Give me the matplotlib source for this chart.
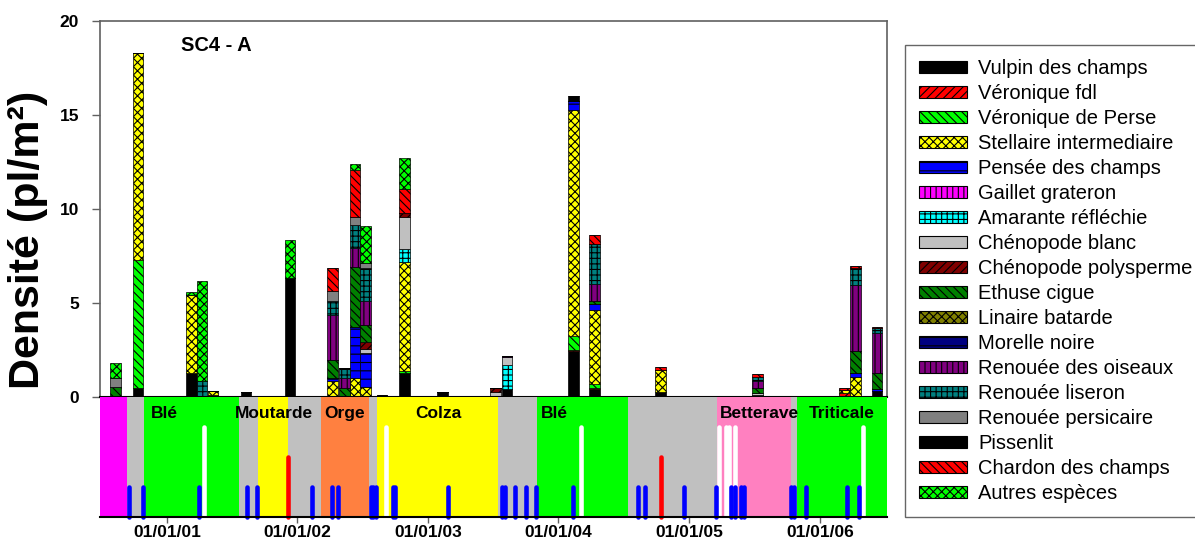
import pandas as pd
import matplotlib
matplotlib.use("Agg")
import matplotlib.pyplot as plt
import matplotlib.dates as mdates
from matplotlib.patches import Patch

plt.rcParams['font.family'] = ['Liberation Sans', 'DejaVu Sans']
plt.rcParams['hatch.linewidth'] = 0.8

# dates des relevés de flore
dates = pd.to_datetime([
    '2000-08-11', '2000-10-12', '2001-03-10', '2001-04-09', '2001-05-10',
    '2001-08-10', '2001-12-11', '2002-04-10', '2002-05-12', '2002-06-11',
    '2002-07-11', '2002-08-26', '2002-10-28', '2003-02-11', '2003-07-09',
    '2003-08-10', '2004-02-12', '2004-04-11', '2004-10-12', '2005-07-10',
    '2006-03-11', '2006-04-11', '2006-06-10'])

especes = ['Vulpin des champs', 'Véronique fdl', 'Véronique de Perse',
           'Stellaire intermediaire', 'Pensée des champs', 'Gaillet grateron',
           'Amarante réfléchie', 'Chénopode blanc', 'Chénopode polysperme',
           'Ethuse cigue', 'Linaire batarde', 'Morelle noire',
           'Renouée des oiseaux', 'Renouée liseron', 'Renouée persicaire',
           'Pissenlit', 'Chardon des champs', 'Autres espèces']
couleurs = ['#000000', '#FF0000', '#00FF00', '#FFFF00', '#0000FF', '#FF00FF',
            '#00FFFF', '#C0C0C0', '#800000', '#008000', '#808000', '#000080',
            '#800080', '#008080', '#808080', '#000000', '#FF0000', '#00FF00']
hachures = ['', '////', '\\\\\\\\', 'xxxx', '--', '|||', '+++', '', '////',
            '\\\\\\\\', 'xxxx', '--', '|||', '+++', '', '', '\\\\\\\\', 'xxxx']

# densités (pl/m2) par espèce, une valeur par relevé
vulpin = [0, .5, 1.3, 0, .1, .25, 6.35, 0, 0, 0, 0, 0, 1.3, .25, 0, .4, 2.45, .45, .28, 0, 0, 0, .34]
veronique_fdl = [0, 0, 0, .05, 0, 0, 0, 0, 0, 0, 0, 0, 0, 0, 0, 0, .05, .05, 0, 0, .2, 0, 0]
veronique_perse = [0, 6.8, 0, 0, 0, 0, 0, 0, 0, 0, 0, 0, .1, 0, 0, 0, .75, .2, 0, .1, 0, .05, 0]
stellaire = [0, 11.0, 4.1, 0, .2, 0, 0, .85, 0, 1.0, .55, 0, 5.8, 0, 0, 0, 12.0, 3.95, 1.17, 0, .15, 1.0, 0]
pensee = [0, 0, 0, 0, 0, 0, 0, .18, 0, 2.75, 1.77, 0, 0, 0, 0, 0, .5, .32, 0, 0, 0, .21, .06]
gaillet = [0] * 23
amarante = [0, 0, 0, 0, 0, 0, 0, 0, 0, 0, 0, 0, .66, 0, 0, 1.3, 0, 0, 0, 0, 0, 0, 0]
chenopode_blanc = [0, 0, 0, 0, 0, 0, 0, 0, 0, 0, .22, 0, 1.73, 0, .28, .45, 0, 0, 0, .13, 0, 0, 0]
chenopode_poly = [0, 0, 0, 0, 0, 0, 0, 0, 0, 0, .4, 0, .18, 0, .2, 0, 0, 0, 0, 0, 0, 0, 0]
ethuse = [.55, 0, 0, 0, 0, 0, 0, .95, .5, 3.15, .9, 0, 0, 0, 0, 0, 0, .13, 0, .23, 0, 1.19, .89]
linaire = [0] * 23
morelle = [0] * 23
renouee_oiseaux = [0, 0, 0, 0, 0, 0, 0, 2.4, .5, 1.03, 1.24, 0, 0, 0, 0, .05, 0, .92, 0, .39, 0, 3.5, 2.1]
renouee_liseron = [0, 0, 0, .8, 0, 0, 0, .75, .55, 1.24, 1.8, 0, 0, 0, 0, 0, 0, 2.13, 0, .21, 0, .9, .3]
renouee_persicaire = [.45, 0, 0, 0, 0, 0, 0, .5, 0, .4, .23, .08, 0, 0, 0, 0, 0, 0, 0, 0, 0, 0, 0]
pissenlit = [0, 0, 0, 0, 0, 0, 0, 0, 0, 0, 0, 0, 0, 0, 0, 0, .27, 0, 0, 0, 0, 0, 0]
chardon = [0, 0, 0, 0, 0, 0, 0, 1.25, 0, 2.5, 0, 0, 1.28, 0, 0, 0, 0, .45, .15, .19, .15, .1, .05]
autres = [.8, 0, .2, 5.3, 0, 0, 2.0, 0, 0, .3, 2.0, 0, 1.65, 0, 0, 0, 0, 0, 0, 0, 0, 0, 0]

densites = [vulpin, veronique_fdl, veronique_perse, stellaire, pensee, gaillet,
            amarante, chenopode_blanc, chenopode_poly, ethuse, linaire, morelle,
            renouee_oiseaux, renouee_liseron, renouee_persicaire, pissenlit,
            chardon, autres]

# succession des cultures
periodes = pd.to_datetime([
    '2000-06-28', '2000-09-11', '2000-10-28', '2001-07-22', '2001-09-12',
    '2001-12-05', '2002-03-08', '2002-07-20', '2002-08-11', '2003-07-16',
    '2003-11-02', '2004-07-14', '2005-03-19', '2005-10-12', '2005-10-28',
    '2006-07-08'])
periodes_couleur = ['#FF00FF', '#C0C0C0', '#00FF00', '#C0C0C0', '#FFFF00',
                    '#C0C0C0', '#FF8040', '#C0C0C0', '#FFFF00', '#C0C0C0',
                    '#00FF00', '#C0C0C0', '#FF80C0', '#C0C0C0', '#00FF00']
cultures = ['Blé', 'Moutarde', 'Orge', 'Colza', 'Blé', 'Betterave', 'Triticale']
cultures_debut = pd.to_datetime(['2000-11-18', '2001-07-11', '2002-03-16', '2002-11-27',
                                 '2003-11-14', '2005-03-28', '2005-12-02'])

# interventions
desherbages = pd.to_datetime([
    '2000-09-16', '2000-10-25', '2001-04-02', '2001-08-14', '2001-09-11',
    '2002-02-11', '2002-04-08', '2002-04-24', '2002-07-25', '2002-08-01',
    '2002-08-08', '2002-09-26', '2002-10-01', '2003-02-27', '2003-07-28',
    '2003-08-05', '2003-09-01', '2003-10-01', '2003-10-29', '2004-02-11',
    '2004-08-10', '2004-08-29', '2004-12-16', '2005-03-17', '2005-04-29',
    '2005-05-09', '2005-05-27', '2005-06-02', '2005-10-13', '2005-10-20',
    '2005-11-23', '2006-03-18', '2006-04-21'])
travaux_sol = pd.to_datetime(['2001-12-06', '2004-10-14'])
fertilisations = pd.to_datetime([
    '2001-04-14', '2002-09-05', '2004-03-05', '2005-03-26', '2005-04-13',
    '2005-04-23', '2005-05-09', '2006-05-03'])

x0, x1 = periodes[0], periodes[-1]

fig = plt.figure(figsize=(11.95, 5.48), dpi=100)
ax = fig.add_axes([100 / 1195, 1 - 397 / 548, 787 / 1195, 376 / 548])
ax2 = fig.add_axes([100 / 1195, 1 - 517 / 548, 787 / 1195, 120 / 548])

bas = [0.0] * len(dates)
for vals, c, h in zip(densites, couleurs, hachures):
    ax.bar(dates, vals, width=30, bottom=bas, color=c, hatch=h,
           edgecolor='black', linewidth=0.5)
    bas = [b + v for b, v in zip(bas, vals)]

ax.set_xlim(x0, x1)
ax.set_ylim(0, 20)
ax.set_yticks([0, 5, 10, 15, 20])
ax.tick_params(axis='x', bottom=False, labelbottom=False)
ax.tick_params(axis='y', direction='out', length=6, width=1, color='#606060',
               labelsize=12.5, pad=9)
for lab in ax.get_yticklabels():
    lab.set_fontweight('bold')
for s in ['top', 'left', 'right']:
    ax.spines[s].set_color('#606060')
    ax.spines[s].set_linewidth(1.2)
ax.spines['bottom'].set_color('black')
ax.spines['bottom'].set_linewidth(1.5)

ax.text(0.103, 0.934, 'SC4 - A', transform=ax.transAxes, fontsize=14.5,
        fontweight='bold', ha='left', va='center')
fig.text(28 / 1195, 1 - 240 / 548, 'Densité (pl/m²)', rotation=90,
         fontsize=31, fontweight='bold', ha='center', va='center')

# bandeau des cultures et interventions
for d, f, c in zip(periodes[:-1], periodes[1:], periodes_couleur):
    ax2.axvspan(d, f, color=c, lw=0)
for nom, d in zip(cultures, cultures_debut):
    ax2.text(d, 3.45, nom, fontsize=12.5, fontweight='bold', ha='left', va='center')
for d in fertilisations:
    ax2.plot([d, d], [0, 3], color='white', lw=3.3, solid_capstyle='round')
for d in travaux_sol:
    ax2.plot([d, d], [0, 2], color='red', lw=3.3, solid_capstyle='round', clip_on=False)
for d in desherbages:
    ax2.plot([d, d], [0, 1], color='blue', lw=3.3, solid_capstyle='round', clip_on=False)

ax2.set_xlim(x0, x1)
ax2.set_ylim(0, 4)
ax2.set_yticks([])
ax2.xaxis.set_major_locator(mdates.YearLocator())
ax2.xaxis.set_major_formatter(mdates.DateFormatter('%d/%m/%y'))
ax2.tick_params(axis='x', direction='out', length=4, width=1, color='#606060',
                labelsize=12.5, pad=2)
for lab in ax2.get_xticklabels():
    lab.set_fontweight('bold')
for s in ['top', 'left', 'right']:
    ax2.spines[s].set_visible(False)
ax2.spines['bottom'].set_linewidth(1.5)

poignees = [Patch(facecolor=c, hatch=h, edgecolor='black', linewidth=0.8, label=e)
            for e, c, h in zip(especes, couleurs, hachures)]
leg = fig.legend(handles=poignees, loc='upper left',
                 bbox_to_anchor=(905 / 1195, 1 - 45 / 548), fontsize=14.5,
                 frameon=True, fancybox=False, edgecolor='#404040',
                 borderpad=0.68, labelspacing=0.3, handlelength=2.4,
                 handleheight=0.55, handletextpad=0.55, borderaxespad=0)
leg.get_frame().set_linewidth(1)

fig.savefig('out.png', dpi=100)
